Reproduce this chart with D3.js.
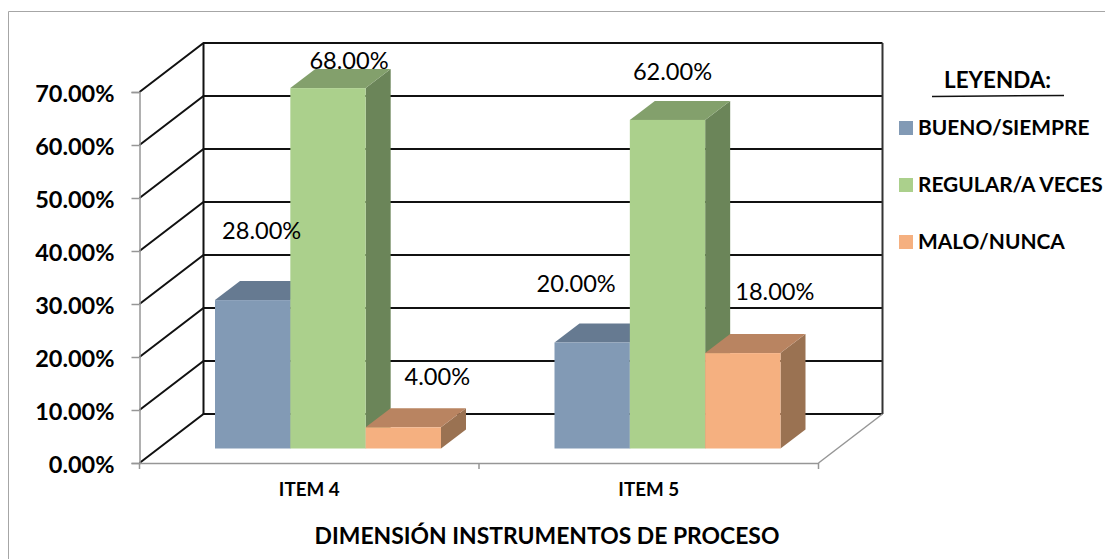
<!DOCTYPE html>
<html>
<head>
<meta charset="utf-8">
<script src="https://cdn.jsdelivr.net/npm/d3@7"></script>
<style>
  body { margin: 0; background: #fff; }
  svg { display: block; font-family: Lato, "Open Sans", sans-serif; }
  .axis text { font-family: Lato, "Open Sans", sans-serif; font-weight: 700; fill: #000; }
  .y-axis text { font-size: 23.5px; }
  .x-axis text { font-size: 18.8px; }
  .axis path, .axis line { stroke: #969696; stroke-width: 1.5; }
</style>
</head>
<body>
<div id="chart"></div>
<script>
// DATA
const categories = ["ITEM 4", "ITEM 5"];
const seriesNames = ["BUENO/SIEMPRE", "REGULAR/A VECES", "MALO/NUNCA"];
const bueno = [28, 20];
const regular = [68, 62];
const malo = [4, 18];
const yTicks = [0, 10, 20, 30, 40, 50, 60, 70];

const colors = ["#829ab5", "#abd08c", "#f5b080"];
const tops = ["#667a91", "#83a06c", "#b98461"];
const sides = ["#5f7186", "#6b8559", "#9a7252"];
const seriesValues = [bueno, regular, malo];

// CHART AREA
const width = 1105, height = 559;
const plot = {left: 139.5, right: 818.5, top: 92, bottom: 463};
const wall = {dx: 64, dy: -49};   // oblique offset of the back wall
const barFloor = {dx: 0, dy: -14.5}; // bars stand a bit behind the front edge
const barDepth = {dx: 25, dy: -19};

const svg = d3.select("#chart").append("svg")
    .attr("width", width)
    .attr("height", height);

// chart frame
svg.append("path")
    .attr("d", `M8.5,559V11.5H1105`)
    .attr("fill", "none")
    .attr("stroke", "#a6a6a6")
    .attr("stroke-width", 1);

// SCALES
const x = d3.scaleBand().domain(categories).range([plot.left, plot.right]);
const y = d3.scaleLinear().domain([0, 70]).range([plot.bottom, plot.top]);
const xSeries = d3.scaleBand().domain(seriesNames).range([75.5, 301.5]);

// WALLS
const grid = svg.append("g")
    .attr("fill", "none")
    .attr("stroke", "#111")
    .attr("stroke-width", 2);

grid.selectAll(".back")
    .data(yTicks)
    .enter().append("path")
    .attr("d", d => `M${plot.left},${y(d)}l${wall.dx},${wall.dy}H${plot.right + wall.dx}`);

grid.append("path")
    .attr("d", `M${plot.left + wall.dx},${y(70) + wall.dy}V${y(0) + wall.dy}`);

grid.append("path")
    .attr("d", `M${plot.right + wall.dx},${y(70) + wall.dy}V${y(0) + wall.dy}`)
    .attr("stroke", "#333");

// floor edge at right
svg.append("path")
    .attr("d", `M${plot.right},${y(0)}l${wall.dx},${wall.dy}`)
    .attr("fill", "none")
    .attr("stroke", "#969696")
    .attr("stroke-width", 1.5);

// AXIS
svg.append("g")
    .attr("class", "y-axis axis")
    .attr("transform", `translate(${plot.left},0)`)
    .call(d3.axisLeft(y).tickValues(yTicks).tickSize(8).tickPadding(17).tickFormat(d => d.toFixed(2) + "%"))
    .selectAll("text")
    .attr("dy", "0.4em");

svg.append("g")
    .attr("class", "x-axis axis")
    .attr("transform", `translate(0,${plot.bottom})`)
    .call(d3.axisBottom(x).tickSize(0).tickPadding(20));

// category separators
svg.selectAll(".x-tick")
    .data([plot.left, x(categories[1]), plot.right])
    .enter().append("line")
    .attr("x1", d => d).attr("x2", d => d)
    .attr("y1", plot.bottom).attr("y2", plot.bottom + 6)
    .attr("stroke", "#969696")
    .attr("stroke-width", 1.5);

// BARS
const bars = [];
categories.forEach((c, i) => {
    seriesNames.forEach((s, j) => {
        bars.push({category: c, series: s, j: j, value: seriesValues[j][i]});
    });
});

const bar = svg.selectAll(".bar")
    .data(bars)
    .enter().append("g")
    .attr("class", "bar");

const bx = d => x(d.category) + xSeries(d.series);
const by = d => y(d.value) + barFloor.dy;
const bw = xSeries.bandwidth();
const by0 = y(0) + barFloor.dy;

bar.append("path") // side
    .attr("fill", d => sides[d.j])
    .attr("d", d => `M${bx(d) + bw},${by(d)}l${barDepth.dx},${barDepth.dy}V${by0 + barDepth.dy}l${-barDepth.dx},${-barDepth.dy}Z`);

bar.append("path") // top
    .attr("fill", d => tops[d.j])
    .attr("d", d => `M${bx(d)},${by(d)}l${barDepth.dx},${barDepth.dy}h${bw}l${-barDepth.dx},${-barDepth.dy}Z`);

bar.append("rect") // front
    .attr("fill", d => colors[d.j])
    .attr("x", bx)
    .attr("y", by)
    .attr("width", bw)
    .attr("height", d => by0 - by(d));

// DATA LABELS (moved by hand in the original chart)
const labelShift = {
    "ITEM 4": [[9, -61], [21, -19], [34, -42]],
    "ITEM 5": [[-16, -51], [5, -39.5], [32, -53]]
};

svg.selectAll(".label")
    .data(bars)
    .enter().append("text")
    .attr("class", "label")
    .attr("text-anchor", "middle")
    .attr("font-size", 23.6)
    .attr("fill", "#000")
    .attr("x", d => bx(d) + bw / 2 + labelShift[d.category][d.j][0])
    .attr("y", d => by(d) + labelShift[d.category][d.j][1])
    .text(d => d.value.toFixed(2) + "%");

// AXIS TITLE
svg.append("text")
    .attr("x", 547)
    .attr("y", 544)
    .attr("text-anchor", "middle")
    .attr("font-size", 22.9)
    .attr("font-weight", 700)
    .text("DIMENSIÓN INSTRUMENTOS DE PROCESO");

// LEGEND
svg.append("text")
    .attr("x", 997.5)
    .attr("y", 88)
    .attr("text-anchor", "middle")
    .attr("font-size", 22.4)
    .attr("font-weight", 700)
    .text("LEYENDA:");

svg.append("line")
    .attr("x1", 932).attr("x2", 1064)
    .attr("y1", 96.5).attr("y2", 95.5)
    .attr("stroke", "#111")
    .attr("stroke-width", 1.5);

const legend = svg.selectAll(".legend")
    .data(seriesNames)
    .enter().append("g")
    .attr("class", "legend")
    .attr("transform", (d, i) => `translate(899,${121 + i * 57})`);

legend.append("rect")
    .attr("width", 14)
    .attr("height", 14)
    .attr("fill", (d, i) => colors[i]);

legend.append("text")
    .attr("x", 19)
    .attr("y", 13.5)
    .attr("font-size", 20.9)
    .attr("font-weight", 700)
    .text(d => d);
</script>
</body>
</html>
